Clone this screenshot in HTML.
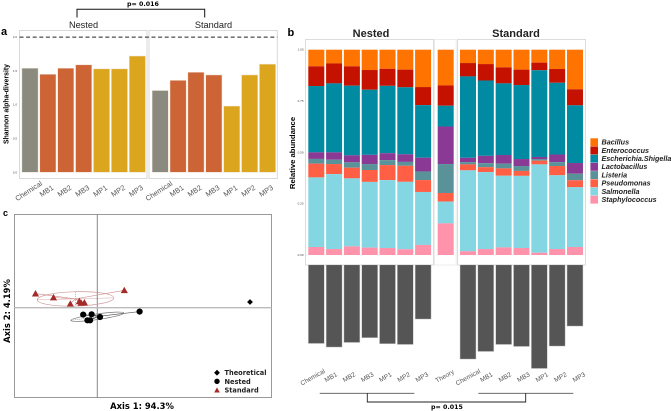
<!DOCTYPE html>
<html lang="en">
<head>
<meta charset="utf-8">
<title>Microbial diversity figure</title>
<style>
html,body{margin:0;padding:0;background:#fff;}
svg{display:block;}
text{font-family:"Liberation Sans",sans-serif;}
.dv{font-family:"DejaVu Sans",sans-serif;font-weight:bold;}
</style>
</head>
<body>
<svg id="fig" xmlns="http://www.w3.org/2000/svg" width="671" height="411" viewBox="0 0 671 411"></svg>
<script>
// Panel a: Shannon alpha-diversity
const alphaLabels = ['Chemical','MB1','MB2','MB3','MP1','MP2','MP3'];
const alphaNested = [1.54,1.45,1.54,1.59,1.53,1.53,1.72];
const alphaStandard = [1.21,1.36,1.48,1.44,0.98,1.44,1.60];
const alphaTicks = [0,0.5,1,1.5,2];
const alphaTheory = 2.0;

// Panel b: relative abundance (Nested 7, Theory, Standard 7)
const genera = ['Bacillus','Enterococcus','Escherichia.Shigella','Lactobacillus','Listeria','Pseudomonas','Salmonella','Staphylococcus'];
const bacillus = [8.1,6.7,8.1,9.9,9.3,9.7,18.2,17.4,6.5,7.0,8.6,9.7,6.3,9.4,19.3];
const enterococcus = [9.6,9.7,9.4,9.6,8.3,8.6,8.8,9.9,6.5,8.0,7.8,7.5,3.7,6.7,7.8];
const escherichia = [32.3,33.6,33.9,31.7,32.8,32.6,25.6,10.1,39.6,36.7,34.9,36.0,42.2,34.9,28.1];
const lactobacillus = [3.2,3.6,3.4,4.5,3.4,3.7,6.7,18.3,2.1,3.6,4.2,3.4,1.0,3.7,5.2];
const listeria = [2.3,2.1,2.6,2.9,2.4,1.9,4.2,14.1,1.1,1.9,2.3,2.4,0.8,1.9,3.2];
const pseudomonas = [6.7,4.9,5.2,5.8,7.3,7.8,5.8,4.2,2.9,2.4,3.6,2.4,1.8,4.5,3.4];
const salmonella = [33.9,36.5,33.1,32.0,33.1,32.8,25.8,10.6,39.4,37.5,34.9,35.1,43.0,35.9,29.1];
const staphylococcus = [3.9,2.9,4.2,3.6,3.4,2.8,4.9,15.4,1.8,2.9,3.7,3.4,1.1,2.9,3.9];
const abundanceTicks = ['0.00','0.25','0.50','0.75','1.00'];
const sampleLabels = ['Chemical','MB1','MB2','MB3','MP1','MP2','MP3'];

// Panel b lower: distance to theory
const distNested = [78.7,82.3,77.7,73,79,79.7,54.3];
const distStandard = [94.3,86.7,79.7,81.7,103.7,81.3,61.3];

// Panel c: ordination coordinates
const stdAxis1 = [-0.206,-0.146,-0.09,-0.06,-0.054,-0.043,0.09];
const stdAxis2 = [0.047,0.034,0.013,0.021,0.016,0.017,0.058];
const nesAxis1 = [-0.047,-0.019,-0.033,-0.024,0.009,0.141];
const nesAxis2 = [-0.023,-0.022,-0.042,-0.042,-0.031,-0.013];
const theoAxis1 = [0.509];
const theoAxis2 = [0.019];
const ordLegend = ['Theoretical','Nested','Standard'];

const NS = 'http://www.w3.org/2000/svg';
const svg = document.getElementById('fig');
function el(tag, name, attrs, txt, interact) {
  const e = document.createElementNS(NS, tag);
  
  
  for (const k in attrs) e.setAttribute(k, attrs[k]);
  if (txt !== undefined) e.textContent = txt;
  svg.appendChild(e);
  return e;
}
function rect(name,x,y,w,h,fill,stroke,sw){return el('rect',name,{x:x,y:y,width:w,height:h,fill:fill,stroke:stroke||'none','stroke-width':sw||0});}
function line(name,x1,y1,x2,y2,stroke,sw,dash){const a={x1:x1,y1:y1,x2:x2,y2:y2,stroke:stroke,'stroke-width':sw};if(dash)a['stroke-dasharray']=dash;return el('line',name,a);}
function text(name,x,y,s,size,opts){const o=opts||{};const a={x:x,y:y,'font-size':size,fill:o.fill||'#000','text-anchor':o.anchor||'start'};
  if(o.weight)a['font-weight']=o.weight;if(o.style)a['font-style']=o.style;if(o.cls)a['class']=o.cls;if(o.rot!==undefined)a.transform='rotate('+o.rot+' '+x+' '+y+')';
  return el('text',name,a,s);}

/* ---------- Panel a ---------- */
const ya = v => 172.3 - v * 67.6;
const xaN = i => 30 + i * 17.89;
const xaS = i => 160.2 + i * 17.89;
const alphaColors = ['#8b8a7e','#cc6436','#cc6436','#cc6436','#dba51e','#dba51e','#dba51e'];
text('panel-a-label',1,35,'a',11,{weight:'bold'});
text('p-value-a',143,6,'p= 0.016',6.3,{cls:'dv',anchor:'middle'});
el('path','significance-bracket-a',{d:'M77 17.5V9.2H204.7V17.5',fill:'none',stroke:'#111','stroke-width':1});
text('nested-title-a',83.5,28,'Nested',9.2,{anchor:'middle',fill:'#222'});
text('standard-title-a',213.5,28,'Standard',9.2,{anchor:'middle',fill:'#222'});
rect('nested-panel-a',19.5,30.5,127.5,148,'#fff','#d9d9d9',1);
rect('standard-panel-a',149,30.5,128.3,148,'#fff','#d9d9d9',1);
text('y-axis-title-a',8.5,104,'Shannon alpha-diversity',6.9,{weight:'bold',anchor:'middle',rot:-90});
alphaTicks.forEach(t=>{text('y-tick-a',17,ya(t)+1,t.toFixed(1),3,{anchor:'end',fill:'#444'});});
alphaNested.forEach((v,i)=>{rect('bar-nested-'+alphaLabels[i],xaN(i)-8.1,ya(v),16.2,ya(0)-ya(v),alphaColors[i],'#efe3d4',0.5);});
alphaStandard.forEach((v,i)=>{rect('bar-standard-'+alphaLabels[i],xaS(i)-8.1,ya(v),16.2,ya(0)-ya(v),alphaColors[i],'#efe3d4',0.5);});
line('theory-line-a',19.5,ya(alphaTheory),277.3,ya(alphaTheory),'#222',1,'4 2.6');
alphaLabels.forEach((s,i)=>{text('x-label-nested-a',xaN(i),193,s,7.3,{anchor:'middle',fill:'#555',rot:-33});
  text('x-label-standard-a',xaS(i),193,s,7.3,{anchor:'middle',fill:'#555',rot:-33});});

/* ---------- Panel b ---------- */
const series = [bacillus,enterococcus,escherichia,lactobacillus,listeria,pseudomonas,salmonella,staphylococcus];
const genusColors = ['#ff7300','#c51200','#008ba3','#8a3a94','#5a9299','#fe5f45','#84d6e2','#ff93ab'];
const xb = i => i < 7 ? 316.3 + i * 17.8 : (i === 7 ? 445.7 : 468 + (i - 8) * 17.83);
const yb = f => 255 - f * 205.3;
text('panel-b-label',287.5,36,'b',11,{weight:'bold'});
text('nested-title-b',371,37,'Nested',11,{weight:'bold',anchor:'middle',fill:'#222'});
text('standard-title-b',516,37,'Standard',11,{weight:'bold',anchor:'middle',fill:'#222'});
rect('nested-panel-b',305.5,39.5,128,225.5,'#fff','#dcdcdc',1);
rect('theory-panel-b',434.5,39.5,21.7,225.5,'#fff','#ececec',1);
rect('standard-panel-b',457.5,39.5,128,225.5,'#fff','#dcdcdc',1);
text('y-axis-title-b',295,153,'Relative abundance',7.7,{weight:'bold',anchor:'middle',rot:-90});
abundanceTicks.forEach((t,i)=>{text('y-tick-b',303.5,yb(i/4)+1,t,3,{anchor:'end',fill:'#444'});});
bacillus.forEach((_,i)=>{
  const total = series.reduce((a,s)=>a+s[i],0);
  let cum = 0;
  series.forEach((s,k)=>{
    const top = yb(1-cum/total);
    cum += s[i];
    const bot = yb(1-cum/total);
    rect('stack-'+genera[k].toLowerCase().replace('.','-')+'-'+i,xb(i)-8,top,16,bot-top,genusColors[k]);
  });
});
genera.forEach((g,k)=>{
  const y = 138.3 + k * 8.2;
  rect('legend-swatch-'+g.toLowerCase().replace('.','-'),590.4,y,7.6,7.9,genusColors[k]);
  text('legend-entry-'+g.toLowerCase().replace('.','-'),601.5,y+6.3,g,7.2,{weight:'bold',style:'italic',fill:'#222'});
});
const yd = v => 264.8 + v;
distNested.forEach((v,i)=>{rect('distance-bar-nested-'+i,xb(i)-8,264.8,16,yd(v)-264.8,'#555','#d0d0d0',0.5);});
distStandard.forEach((v,i)=>{rect('distance-bar-standard-'+i,xb(i+8)-8,264.8,16,yd(v)-264.8,'#555','#d0d0d0',0.5);});
sampleLabels.forEach((s,i)=>{
  text('x-label-nested-b',313.7+i*18.2,379,s,6.5,{anchor:'middle',fill:'#555',rot:-29});
  text('x-label-standard-b',469+i*18.5,379,s,6.5,{anchor:'middle',fill:'#555',rot:-29});
});
text('x-label-theory-b',445.7,378,'Theory',6.5,{anchor:'middle',fill:'#555',rot:-29});
line('nested-group-line-b',319.7,393.3,414.3,393.3,'#555',0.8);
line('standard-group-line-b',478.3,393.3,573.3,393.3,'#555',0.8);
el('path','significance-bracket-b',{d:'M367.3 393.3V402H525.7V393.3',fill:'none',stroke:'#222','stroke-width':0.9});
text('p-value-b',447,409,'p= 0.015',6.3,{cls:'dv',anchor:'middle'});

/* ---------- Panel c ---------- */
const sx = v => 97.3 + v * 300;
const sy = v => 307.7 - v * 300;
const mean = a => a.reduce((p,c)=>p+c,0)/a.length;
const RED = '#a52a2a';
text('panel-c-label',3,216,'c',9,{weight:'bold'});
rect('ordination-frame',14.5,214.5,257,183,'#fff','#999',1);
line('vertical-zero-axis',sx(0),214.5,sx(0),397.5,'#888',1);
line('horizontal-zero-axis',14.5,sy(0),271.5,sy(0),'#bbb',1.4);
const cxS=mean(stdAxis1),cyS=mean(stdAxis2),cxN=mean(nesAxis1),cyN=mean(nesAxis2);
el('ellipse','standard-ellipse',{cx:sx(cxS),cy:sy(cyS),rx:38.3,ry:7.2,fill:'none',stroke:'#cf9a9a','stroke-width':0.7,transform:'rotate(-1.5 '+sx(cxS)+' '+sy(cyS)+')'});
line('standard-ellipse-major',sx(cxS)-38,sy(cyS)+1,sx(cxS)+38,sy(cyS)-1,RED,0.4,'1 1');
line('standard-ellipse-minor',sx(cxS),sy(cyS)-7,sx(cxS),sy(cyS)+7,RED,0.4,'1 1');
const nCx=sx(cxN)-1.3,nCy=sy(cyN)+0.4;
el('ellipse','nested-ellipse',{cx:nCx,cy:nCy,rx:26.8,ry:2.8,fill:'none',stroke:'#777','stroke-width':0.7,transform:'rotate(-8 '+nCx+' '+nCy+')'});
line('nested-ellipse-major',nCx-26,nCy+3.6,nCx+26,nCy-3.6,'#444',0.4,'1 1');
stdAxis1.forEach((v,i)=>{line('standard-spider-'+i,sx(cxS),sy(cyS),sx(v),sy(stdAxis2[i]),'#c88',0.6);});
nesAxis1.forEach((v,i)=>{line('nested-spider-'+i,sx(cxN),sy(cyN),sx(v),sy(nesAxis2[i]),'#555',0.6);});
function tri(name,x,y,s,fill){el('polygon',name,{points:(x)+','+(y-s)+' '+(x-s)+','+(y+s*0.8)+' '+(x+s)+','+(y+s*0.8),fill:fill});}
function diamond(name,x,y,s){el('polygon',name,{points:x+','+(y-s)+' '+(x+s)+','+y+' '+x+','+(y+s)+' '+(x-s)+','+y,fill:'#000'});}
stdAxis1.forEach((v,i)=>{tri('standard-point-'+i,sx(v),sy(stdAxis2[i]),3.6,RED);});
nesAxis1.forEach((v,i)=>{el('circle','nested-point-'+i,{cx:sx(v),cy:sy(nesAxis2[i]),r:3.1,fill:'#000'});});
theoAxis1.forEach((v,i)=>{diamond('theoretical-point',sx(v),sy(theoAxis2[i]),2.9);});
diamond('legend-marker-theoretical',217,372.7,2.9);
el('circle','legend-marker-nested',{cx:217,cy:381.3,r:2.7,fill:'#000'});
tri('legend-marker-standard',217,390.2,2.8,RED);
ordLegend.forEach((s,i)=>{text('legend-entry-'+s.toLowerCase(),224.5,375+i*8.85,s,6.6,{cls:'dv',fill:'#222'});});
text('x-axis-title-c',142,409,'Axis 1: 94.3%',8.4,{cls:'dv',anchor:'middle'});
text('y-axis-title-c',10,311,'Axis 2: 4.19%',8.4,{cls:'dv',anchor:'middle',rot:-90});
</script>
</body>
</html>
